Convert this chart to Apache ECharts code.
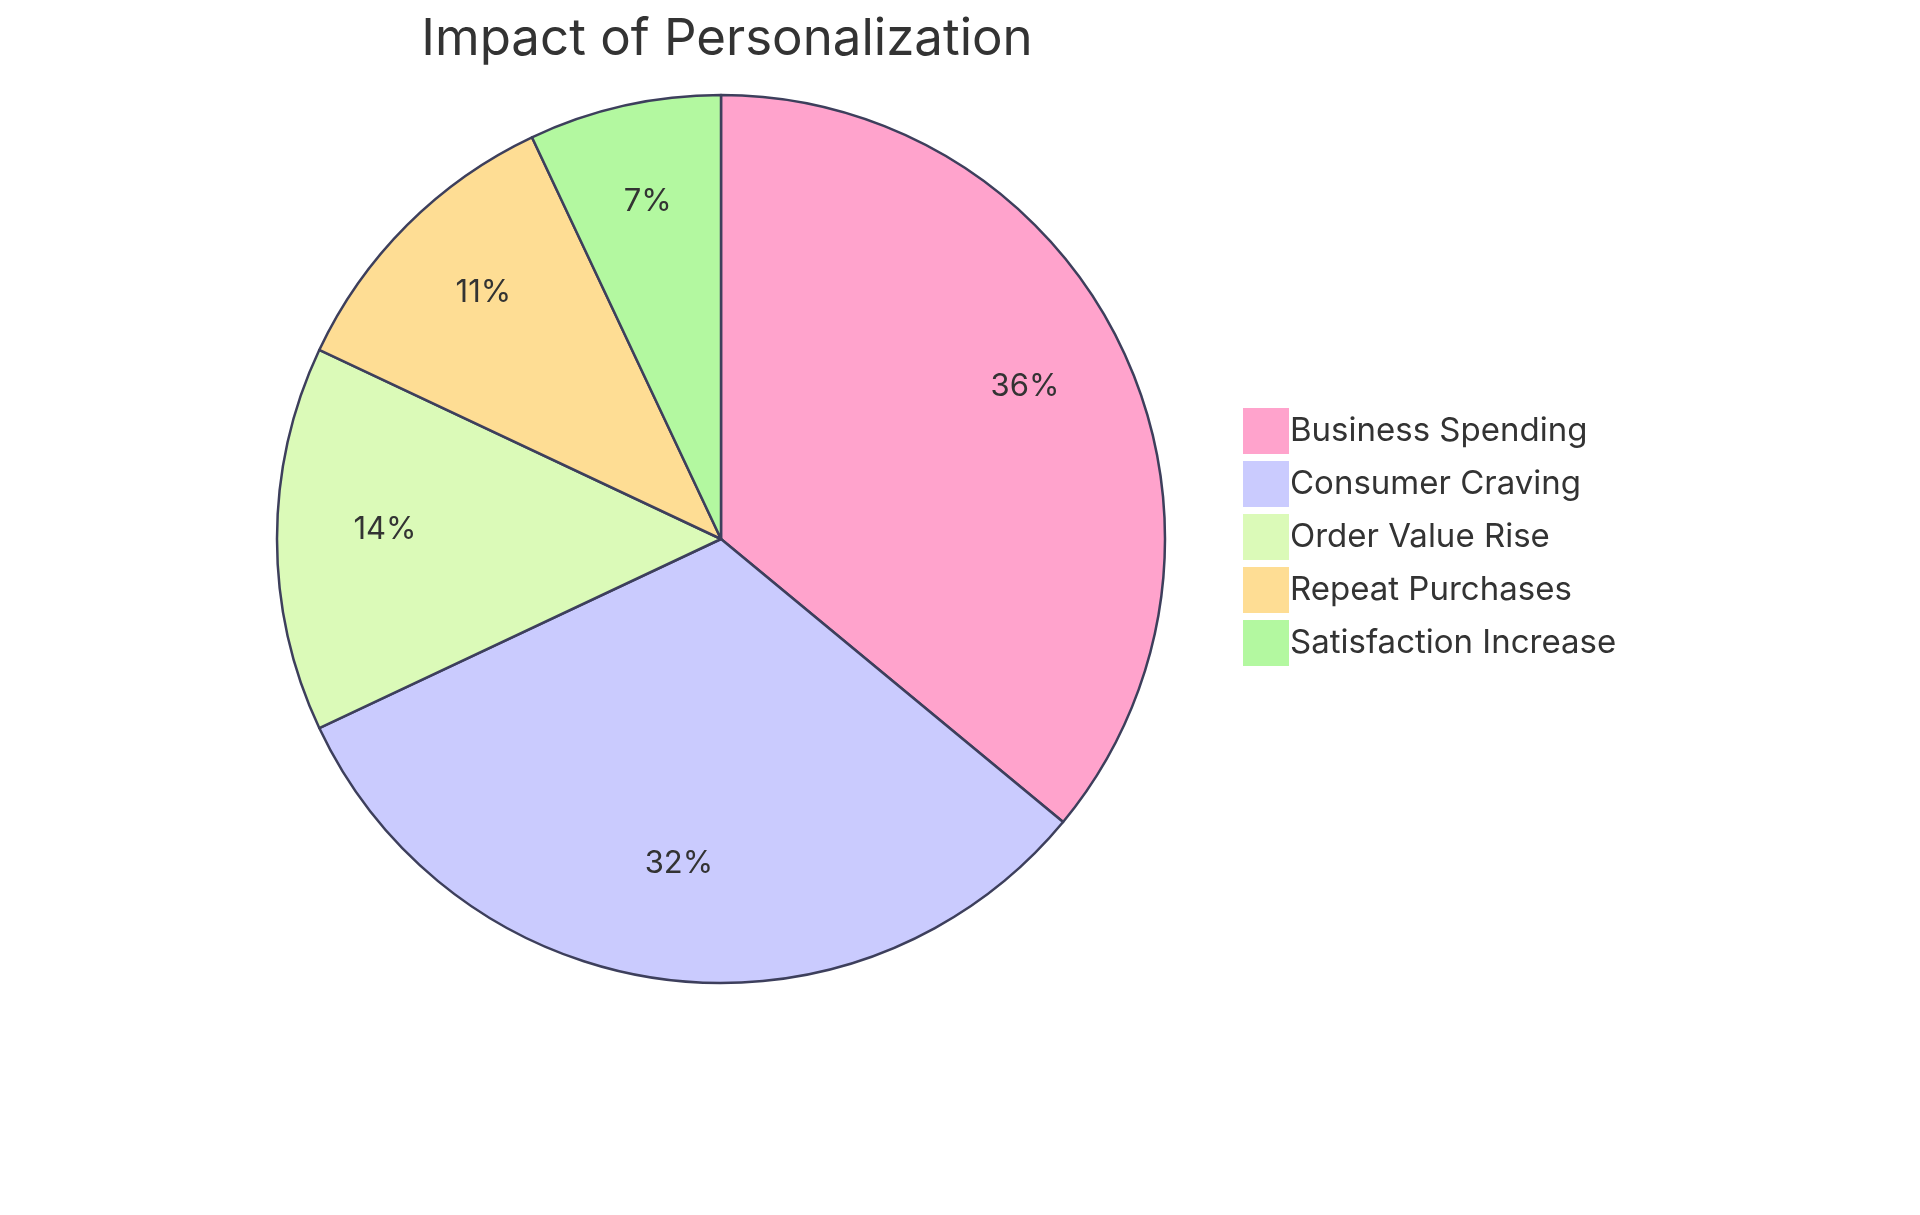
<!DOCTYPE html>
<html>
<head>
<meta charset="utf-8">
<script src="https://cdn.jsdelivr.net/npm/echarts@6/dist/echarts.min.js"></script>
<style>html,body{margin:0;background:#fff}#c{width:1920px;height:1215px}</style>
</head>
<body>
<div id="c"></div>
<script>
  const categories = ['Business Spending', 'Consumer Craving', 'Order Value Rise', 'Repeat Purchases', 'Satisfaction Increase'];
  const values = [36, 32, 14, 11, 7];
  const colors = ['#ffa3cc', '#cacbfe', '#dbfab8', '#fedd94', '#b3f8a0'];

  const data = categories.map((name, i) => ({name, value: values[i], itemStyle: {color: colors[i]}}));
  const chart = echarts.init(document.getElementById('c'));
  const R = 444;
  chart.setOption({
    animation: false,
    textStyle: {fontFamily: 'Inter'},
    title: {
      text: 'Impact of Personalization', left: 722, top: 9, textAlign: 'center',
      textStyle: {fontSize: 51, fontWeight: 'normal', color: '#333', fontFamily: 'Inter'}
    },
    legend: {
      orient: 'vertical', left: 1238, top: 403, itemWidth: 46, itemHeight: 46, itemGap: 7,
      icon: 'rect', data: categories,
      itemStyle: {borderWidth: 0},
      textStyle: {fontSize: 33, color: '#333', padding: [0, 0, 0, -4], lineHeight: 46}
    },
    series: [{
      type: 'pie', center: [721, 539], radius: [0, R], startAngle: 90, clockwise: true,
      data: data, label: {show: false}, labelLine: {show: false},
      itemStyle: {borderColor: '#3d3f5c', borderWidth: 2.5}
    }, {
      type: 'pie', center: [721, 530], radius: [R * 0.5, R], startAngle: 90, clockwise: true,
      data: data.map(d => ({name: d.name, value: d.value, itemStyle: {color: 'rgba(0,0,0,0)'}})),
      silent: true, legendHoverLink: false,
      label: {show: true, position: 'inside', formatter: '{c}%', fontSize: 31, color: '#333'},
      labelLine: {show: false}
    }]
  });
</script>
</body>
</html>
